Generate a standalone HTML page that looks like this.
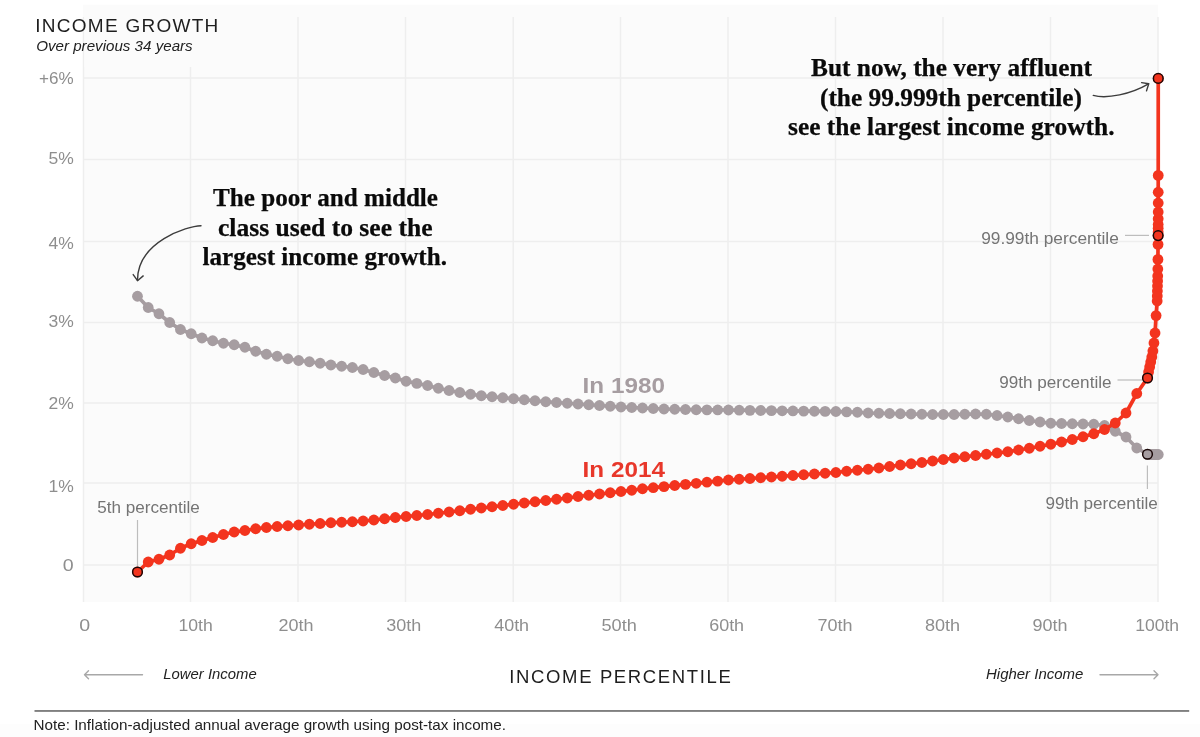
<!DOCTYPE html>
<html><head><meta charset="utf-8"><title>Income growth by percentile</title>
<style>
html,body{margin:0;padding:0;background:#fff;}
body{width:1200px;height:737px;overflow:hidden;font-family:"Liberation Sans",sans-serif;}
svg{display:block;will-change:transform;}
.sans{font-family:"Liberation Sans",sans-serif;}
.serif{font-family:"Liberation Serif",serif;font-weight:bold;font-size:24.5px;fill:#0a0a0a;stroke:#0a0a0a;stroke-width:0.25px;}
.ax{font-family:"Liberation Sans",sans-serif;font-size:16px;fill:#8e8e8e;}
.lab{font-family:"Liberation Sans",sans-serif;font-size:16px;fill:#747474;}
</style></head><body>
<svg width="1200" height="737" viewBox="0 0 1200 737">
<rect x="0" y="0" width="1200" height="737" fill="#ffffff"/>
<rect x="83" y="4.7" width="1074.8" height="597.3" fill="#fbfbfb"/>
<rect x="0" y="724" width="1200" height="13" fill="#fdfdfd"/>
<g stroke="#eeeeee" stroke-width="1.5" fill="none">
<line x1="83.5" y1="17" x2="83.5" y2="602"/>
<line x1="190.5" y1="17" x2="190.5" y2="602"/>
<line x1="298" y1="17" x2="298" y2="602"/>
<line x1="405.5" y1="17" x2="405.5" y2="602"/>
<line x1="513.25" y1="17" x2="513.25" y2="602"/>
<line x1="620.5" y1="17" x2="620.5" y2="602"/>
<line x1="728" y1="17" x2="728" y2="602"/>
<line x1="835.5" y1="17" x2="835.5" y2="602"/>
<line x1="943" y1="17" x2="943" y2="602"/>
<line x1="1050.5" y1="17" x2="1050.5" y2="602"/>
<line x1="1158" y1="17" x2="1158" y2="602"/>
<line x1="83" y1="78" x2="1157.8" y2="78"/>
<line x1="83" y1="159.5" x2="1157.8" y2="159.5"/>
<line x1="83" y1="241.5" x2="1157.8" y2="241.5"/>
<line x1="83" y1="322.5" x2="1157.8" y2="322.5"/>
<line x1="83" y1="403" x2="1157.8" y2="403"/>
<line x1="83" y1="483" x2="1157.8" y2="483"/>
<line x1="83" y1="565" x2="1157.8" y2="565"/>
</g>
<rect x="84.5" y="5" width="150" height="62" fill="#fbfbfb"/>
<polyline points="137.47,296.25 148.22,307.50 158.96,313.75 169.71,322.50 180.45,329.50 191.20,333.75 201.94,338.00 212.69,340.75 223.44,343.25 234.18,344.75 244.92,347.25 255.67,351.25 266.41,354.25 277.16,356.25 287.90,358.75 298.65,360.50 309.39,361.75 320.14,363.25 330.88,365.00 341.63,366.25 352.38,367.50 363.12,369.50 373.86,372.50 384.61,375.50 395.35,378.00 406.10,381.25 416.84,383.40 427.59,385.50 438.33,388.25 449.08,390.50 459.82,392.50 470.57,394.25 481.31,395.75 492.06,396.75 502.80,397.75 513.55,398.75 524.29,399.75 535.04,400.75 545.78,401.75 556.53,402.50 567.27,403.25 578.02,404.00 588.76,404.75 599.51,405.50 610.25,406.25 621.00,407.00 631.75,407.50 642.49,408.00 653.24,408.50 663.98,409.00 674.72,409.25 685.47,409.50 696.21,409.75 706.96,409.85 717.70,409.95 728.45,410.00 739.19,410.20 749.94,410.35 760.68,410.50 771.43,410.65 782.17,410.80 792.92,410.95 803.66,411.10 814.41,411.25 825.15,411.40 835.90,411.50 846.64,411.90 857.39,412.25 868.13,413.00 878.88,413.25 889.62,413.50 900.37,413.75 911.11,414.00 921.86,414.25 932.60,414.50 943.35,414.50 954.09,414.50 964.84,414.25 975.58,414.00 986.33,414.25 997.07,415.50 1007.82,417.00 1018.56,418.75 1029.31,420.50 1040.05,422.00 1050.80,423.25 1061.55,423.50 1072.29,423.75 1083.03,424.00 1093.78,424.25 1104.53,425.50 1115.27,431.25 1126.01,437.00 1136.76,448.00 1147.50,454.25 1148.58,454.50 1149.65,454.50 1150.73,454.50 1151.80,454.50 1152.88,454.50 1153.95,454.50 1155.03,454.50 1156.10,454.50 1157.18,454.50 1158.25,454.50" fill="none" stroke="#a69da1" stroke-width="3.7" stroke-linejoin="round"/>
<circle cx="137.47" cy="296.25" r="5.4" fill="#a69da1"/>
<circle cx="148.22" cy="307.50" r="5.4" fill="#a69da1"/>
<circle cx="158.96" cy="313.75" r="5.4" fill="#a69da1"/>
<circle cx="169.71" cy="322.50" r="5.4" fill="#a69da1"/>
<circle cx="180.45" cy="329.50" r="5.4" fill="#a69da1"/>
<circle cx="191.20" cy="333.75" r="5.4" fill="#a69da1"/>
<circle cx="201.94" cy="338.00" r="5.4" fill="#a69da1"/>
<circle cx="212.69" cy="340.75" r="5.4" fill="#a69da1"/>
<circle cx="223.44" cy="343.25" r="5.4" fill="#a69da1"/>
<circle cx="234.18" cy="344.75" r="5.4" fill="#a69da1"/>
<circle cx="244.92" cy="347.25" r="5.4" fill="#a69da1"/>
<circle cx="255.67" cy="351.25" r="5.4" fill="#a69da1"/>
<circle cx="266.41" cy="354.25" r="5.4" fill="#a69da1"/>
<circle cx="277.16" cy="356.25" r="5.4" fill="#a69da1"/>
<circle cx="287.90" cy="358.75" r="5.4" fill="#a69da1"/>
<circle cx="298.65" cy="360.50" r="5.4" fill="#a69da1"/>
<circle cx="309.39" cy="361.75" r="5.4" fill="#a69da1"/>
<circle cx="320.14" cy="363.25" r="5.4" fill="#a69da1"/>
<circle cx="330.88" cy="365.00" r="5.4" fill="#a69da1"/>
<circle cx="341.63" cy="366.25" r="5.4" fill="#a69da1"/>
<circle cx="352.38" cy="367.50" r="5.4" fill="#a69da1"/>
<circle cx="363.12" cy="369.50" r="5.4" fill="#a69da1"/>
<circle cx="373.86" cy="372.50" r="5.4" fill="#a69da1"/>
<circle cx="384.61" cy="375.50" r="5.4" fill="#a69da1"/>
<circle cx="395.35" cy="378.00" r="5.4" fill="#a69da1"/>
<circle cx="406.10" cy="381.25" r="5.4" fill="#a69da1"/>
<circle cx="416.84" cy="383.40" r="5.4" fill="#a69da1"/>
<circle cx="427.59" cy="385.50" r="5.4" fill="#a69da1"/>
<circle cx="438.33" cy="388.25" r="5.4" fill="#a69da1"/>
<circle cx="449.08" cy="390.50" r="5.4" fill="#a69da1"/>
<circle cx="459.82" cy="392.50" r="5.4" fill="#a69da1"/>
<circle cx="470.57" cy="394.25" r="5.4" fill="#a69da1"/>
<circle cx="481.31" cy="395.75" r="5.4" fill="#a69da1"/>
<circle cx="492.06" cy="396.75" r="5.4" fill="#a69da1"/>
<circle cx="502.80" cy="397.75" r="5.4" fill="#a69da1"/>
<circle cx="513.55" cy="398.75" r="5.4" fill="#a69da1"/>
<circle cx="524.29" cy="399.75" r="5.4" fill="#a69da1"/>
<circle cx="535.04" cy="400.75" r="5.4" fill="#a69da1"/>
<circle cx="545.78" cy="401.75" r="5.4" fill="#a69da1"/>
<circle cx="556.53" cy="402.50" r="5.4" fill="#a69da1"/>
<circle cx="567.27" cy="403.25" r="5.4" fill="#a69da1"/>
<circle cx="578.02" cy="404.00" r="5.4" fill="#a69da1"/>
<circle cx="588.76" cy="404.75" r="5.4" fill="#a69da1"/>
<circle cx="599.51" cy="405.50" r="5.4" fill="#a69da1"/>
<circle cx="610.25" cy="406.25" r="5.4" fill="#a69da1"/>
<circle cx="621.00" cy="407.00" r="5.4" fill="#a69da1"/>
<circle cx="631.75" cy="407.50" r="5.4" fill="#a69da1"/>
<circle cx="642.49" cy="408.00" r="5.4" fill="#a69da1"/>
<circle cx="653.24" cy="408.50" r="5.4" fill="#a69da1"/>
<circle cx="663.98" cy="409.00" r="5.4" fill="#a69da1"/>
<circle cx="674.72" cy="409.25" r="5.4" fill="#a69da1"/>
<circle cx="685.47" cy="409.50" r="5.4" fill="#a69da1"/>
<circle cx="696.21" cy="409.75" r="5.4" fill="#a69da1"/>
<circle cx="706.96" cy="409.85" r="5.4" fill="#a69da1"/>
<circle cx="717.70" cy="409.95" r="5.4" fill="#a69da1"/>
<circle cx="728.45" cy="410.00" r="5.4" fill="#a69da1"/>
<circle cx="739.19" cy="410.20" r="5.4" fill="#a69da1"/>
<circle cx="749.94" cy="410.35" r="5.4" fill="#a69da1"/>
<circle cx="760.68" cy="410.50" r="5.4" fill="#a69da1"/>
<circle cx="771.43" cy="410.65" r="5.4" fill="#a69da1"/>
<circle cx="782.17" cy="410.80" r="5.4" fill="#a69da1"/>
<circle cx="792.92" cy="410.95" r="5.4" fill="#a69da1"/>
<circle cx="803.66" cy="411.10" r="5.4" fill="#a69da1"/>
<circle cx="814.41" cy="411.25" r="5.4" fill="#a69da1"/>
<circle cx="825.15" cy="411.40" r="5.4" fill="#a69da1"/>
<circle cx="835.90" cy="411.50" r="5.4" fill="#a69da1"/>
<circle cx="846.64" cy="411.90" r="5.4" fill="#a69da1"/>
<circle cx="857.39" cy="412.25" r="5.4" fill="#a69da1"/>
<circle cx="868.13" cy="413.00" r="5.4" fill="#a69da1"/>
<circle cx="878.88" cy="413.25" r="5.4" fill="#a69da1"/>
<circle cx="889.62" cy="413.50" r="5.4" fill="#a69da1"/>
<circle cx="900.37" cy="413.75" r="5.4" fill="#a69da1"/>
<circle cx="911.11" cy="414.00" r="5.4" fill="#a69da1"/>
<circle cx="921.86" cy="414.25" r="5.4" fill="#a69da1"/>
<circle cx="932.60" cy="414.50" r="5.4" fill="#a69da1"/>
<circle cx="943.35" cy="414.50" r="5.4" fill="#a69da1"/>
<circle cx="954.09" cy="414.50" r="5.4" fill="#a69da1"/>
<circle cx="964.84" cy="414.25" r="5.4" fill="#a69da1"/>
<circle cx="975.58" cy="414.00" r="5.4" fill="#a69da1"/>
<circle cx="986.33" cy="414.25" r="5.4" fill="#a69da1"/>
<circle cx="997.07" cy="415.50" r="5.4" fill="#a69da1"/>
<circle cx="1007.82" cy="417.00" r="5.4" fill="#a69da1"/>
<circle cx="1018.56" cy="418.75" r="5.4" fill="#a69da1"/>
<circle cx="1029.31" cy="420.50" r="5.4" fill="#a69da1"/>
<circle cx="1040.05" cy="422.00" r="5.4" fill="#a69da1"/>
<circle cx="1050.80" cy="423.25" r="5.4" fill="#a69da1"/>
<circle cx="1061.55" cy="423.50" r="5.4" fill="#a69da1"/>
<circle cx="1072.29" cy="423.75" r="5.4" fill="#a69da1"/>
<circle cx="1083.03" cy="424.00" r="5.4" fill="#a69da1"/>
<circle cx="1093.78" cy="424.25" r="5.4" fill="#a69da1"/>
<circle cx="1104.53" cy="425.50" r="5.4" fill="#a69da1"/>
<circle cx="1115.27" cy="431.25" r="5.4" fill="#a69da1"/>
<circle cx="1126.01" cy="437.00" r="5.4" fill="#a69da1"/>
<circle cx="1136.76" cy="448.00" r="5.4" fill="#a69da1"/>
<circle cx="1147.50" cy="454.25" r="5.4" fill="#a69da1"/>
<circle cx="1148.58" cy="454.50" r="5.4" fill="#a69da1"/>
<circle cx="1149.65" cy="454.50" r="5.4" fill="#a69da1"/>
<circle cx="1150.73" cy="454.50" r="5.4" fill="#a69da1"/>
<circle cx="1151.80" cy="454.50" r="5.4" fill="#a69da1"/>
<circle cx="1152.88" cy="454.50" r="5.4" fill="#a69da1"/>
<circle cx="1153.95" cy="454.50" r="5.4" fill="#a69da1"/>
<circle cx="1155.03" cy="454.50" r="5.4" fill="#a69da1"/>
<circle cx="1156.10" cy="454.50" r="5.4" fill="#a69da1"/>
<circle cx="1157.18" cy="454.50" r="5.4" fill="#a69da1"/>
<circle cx="1158.25" cy="454.50" r="5.4" fill="#a69da1"/>
<polyline points="137.47,572.00 148.22,562.00 158.96,559.25 169.71,555.00 180.45,548.25 191.20,543.75 201.94,540.50 212.69,537.50 223.44,534.50 234.18,532.00 244.92,530.50 255.67,528.75 266.41,527.50 277.16,526.50 287.90,525.75 298.65,525.00 309.39,524.25 320.14,523.50 330.88,522.75 341.63,522.25 352.38,521.75 363.12,521.00 373.86,520.00 384.61,518.75 395.35,517.50 406.10,516.50 416.84,515.50 427.59,514.50 438.33,513.25 449.08,512.00 459.82,510.75 470.57,509.25 481.31,508.00 492.06,506.75 502.80,505.50 513.55,504.25 524.29,503.00 535.04,501.75 545.78,500.50 556.53,499.25 567.27,498.00 578.02,496.50 588.76,495.25 599.51,494.00 610.25,492.75 621.00,491.50 631.75,490.25 642.49,488.75 653.24,487.70 663.98,486.60 674.72,485.50 685.47,484.40 696.21,483.30 706.96,482.20 717.70,481.10 728.45,480.00 739.19,479.25 749.94,478.50 760.68,477.75 771.43,477.00 782.17,476.25 792.92,475.50 803.66,474.75 814.41,474.00 825.15,473.25 835.90,472.50 846.64,471.25 857.39,470.25 868.13,469.25 878.88,468.00 889.62,466.50 900.37,465.00 911.11,463.75 921.86,462.50 932.60,461.00 943.35,459.50 954.09,458.00 964.84,456.75 975.58,455.50 986.33,454.25 997.07,453.00 1007.82,451.75 1018.56,450.00 1029.31,448.25 1040.05,446.25 1050.80,444.25 1061.55,442.00 1072.29,439.50 1083.03,436.75 1093.78,433.75 1104.53,429.50 1115.27,423.00 1126.01,413.00 1136.76,393.50 1147.50,378.00 1148.58,372.00 1149.65,367.00 1150.73,362.00 1151.80,357.00 1152.88,351.00 1153.95,343.00 1155.03,333.00 1156.10,315.60 1157.18,301.00 1157.28,296.00 1157.39,291.00 1157.50,286.00 1157.61,281.00 1157.71,276.00 1157.82,269.00 1157.93,259.40 1158.04,244.40 1158.14,235.60 1158.15,232.00 1158.16,228.30 1158.17,224.60 1158.19,218.75 1158.20,212.00 1158.21,203.00 1158.22,192.25 1158.23,175.40 1158.24,78.40" fill="none" stroke="#f3341e" stroke-width="3.7" stroke-linejoin="round"/>
<circle cx="137.47" cy="572.00" r="5.4" fill="#f3341e"/>
<circle cx="148.22" cy="562.00" r="5.4" fill="#f3341e"/>
<circle cx="158.96" cy="559.25" r="5.4" fill="#f3341e"/>
<circle cx="169.71" cy="555.00" r="5.4" fill="#f3341e"/>
<circle cx="180.45" cy="548.25" r="5.4" fill="#f3341e"/>
<circle cx="191.20" cy="543.75" r="5.4" fill="#f3341e"/>
<circle cx="201.94" cy="540.50" r="5.4" fill="#f3341e"/>
<circle cx="212.69" cy="537.50" r="5.4" fill="#f3341e"/>
<circle cx="223.44" cy="534.50" r="5.4" fill="#f3341e"/>
<circle cx="234.18" cy="532.00" r="5.4" fill="#f3341e"/>
<circle cx="244.92" cy="530.50" r="5.4" fill="#f3341e"/>
<circle cx="255.67" cy="528.75" r="5.4" fill="#f3341e"/>
<circle cx="266.41" cy="527.50" r="5.4" fill="#f3341e"/>
<circle cx="277.16" cy="526.50" r="5.4" fill="#f3341e"/>
<circle cx="287.90" cy="525.75" r="5.4" fill="#f3341e"/>
<circle cx="298.65" cy="525.00" r="5.4" fill="#f3341e"/>
<circle cx="309.39" cy="524.25" r="5.4" fill="#f3341e"/>
<circle cx="320.14" cy="523.50" r="5.4" fill="#f3341e"/>
<circle cx="330.88" cy="522.75" r="5.4" fill="#f3341e"/>
<circle cx="341.63" cy="522.25" r="5.4" fill="#f3341e"/>
<circle cx="352.38" cy="521.75" r="5.4" fill="#f3341e"/>
<circle cx="363.12" cy="521.00" r="5.4" fill="#f3341e"/>
<circle cx="373.86" cy="520.00" r="5.4" fill="#f3341e"/>
<circle cx="384.61" cy="518.75" r="5.4" fill="#f3341e"/>
<circle cx="395.35" cy="517.50" r="5.4" fill="#f3341e"/>
<circle cx="406.10" cy="516.50" r="5.4" fill="#f3341e"/>
<circle cx="416.84" cy="515.50" r="5.4" fill="#f3341e"/>
<circle cx="427.59" cy="514.50" r="5.4" fill="#f3341e"/>
<circle cx="438.33" cy="513.25" r="5.4" fill="#f3341e"/>
<circle cx="449.08" cy="512.00" r="5.4" fill="#f3341e"/>
<circle cx="459.82" cy="510.75" r="5.4" fill="#f3341e"/>
<circle cx="470.57" cy="509.25" r="5.4" fill="#f3341e"/>
<circle cx="481.31" cy="508.00" r="5.4" fill="#f3341e"/>
<circle cx="492.06" cy="506.75" r="5.4" fill="#f3341e"/>
<circle cx="502.80" cy="505.50" r="5.4" fill="#f3341e"/>
<circle cx="513.55" cy="504.25" r="5.4" fill="#f3341e"/>
<circle cx="524.29" cy="503.00" r="5.4" fill="#f3341e"/>
<circle cx="535.04" cy="501.75" r="5.4" fill="#f3341e"/>
<circle cx="545.78" cy="500.50" r="5.4" fill="#f3341e"/>
<circle cx="556.53" cy="499.25" r="5.4" fill="#f3341e"/>
<circle cx="567.27" cy="498.00" r="5.4" fill="#f3341e"/>
<circle cx="578.02" cy="496.50" r="5.4" fill="#f3341e"/>
<circle cx="588.76" cy="495.25" r="5.4" fill="#f3341e"/>
<circle cx="599.51" cy="494.00" r="5.4" fill="#f3341e"/>
<circle cx="610.25" cy="492.75" r="5.4" fill="#f3341e"/>
<circle cx="621.00" cy="491.50" r="5.4" fill="#f3341e"/>
<circle cx="631.75" cy="490.25" r="5.4" fill="#f3341e"/>
<circle cx="642.49" cy="488.75" r="5.4" fill="#f3341e"/>
<circle cx="653.24" cy="487.70" r="5.4" fill="#f3341e"/>
<circle cx="663.98" cy="486.60" r="5.4" fill="#f3341e"/>
<circle cx="674.72" cy="485.50" r="5.4" fill="#f3341e"/>
<circle cx="685.47" cy="484.40" r="5.4" fill="#f3341e"/>
<circle cx="696.21" cy="483.30" r="5.4" fill="#f3341e"/>
<circle cx="706.96" cy="482.20" r="5.4" fill="#f3341e"/>
<circle cx="717.70" cy="481.10" r="5.4" fill="#f3341e"/>
<circle cx="728.45" cy="480.00" r="5.4" fill="#f3341e"/>
<circle cx="739.19" cy="479.25" r="5.4" fill="#f3341e"/>
<circle cx="749.94" cy="478.50" r="5.4" fill="#f3341e"/>
<circle cx="760.68" cy="477.75" r="5.4" fill="#f3341e"/>
<circle cx="771.43" cy="477.00" r="5.4" fill="#f3341e"/>
<circle cx="782.17" cy="476.25" r="5.4" fill="#f3341e"/>
<circle cx="792.92" cy="475.50" r="5.4" fill="#f3341e"/>
<circle cx="803.66" cy="474.75" r="5.4" fill="#f3341e"/>
<circle cx="814.41" cy="474.00" r="5.4" fill="#f3341e"/>
<circle cx="825.15" cy="473.25" r="5.4" fill="#f3341e"/>
<circle cx="835.90" cy="472.50" r="5.4" fill="#f3341e"/>
<circle cx="846.64" cy="471.25" r="5.4" fill="#f3341e"/>
<circle cx="857.39" cy="470.25" r="5.4" fill="#f3341e"/>
<circle cx="868.13" cy="469.25" r="5.4" fill="#f3341e"/>
<circle cx="878.88" cy="468.00" r="5.4" fill="#f3341e"/>
<circle cx="889.62" cy="466.50" r="5.4" fill="#f3341e"/>
<circle cx="900.37" cy="465.00" r="5.4" fill="#f3341e"/>
<circle cx="911.11" cy="463.75" r="5.4" fill="#f3341e"/>
<circle cx="921.86" cy="462.50" r="5.4" fill="#f3341e"/>
<circle cx="932.60" cy="461.00" r="5.4" fill="#f3341e"/>
<circle cx="943.35" cy="459.50" r="5.4" fill="#f3341e"/>
<circle cx="954.09" cy="458.00" r="5.4" fill="#f3341e"/>
<circle cx="964.84" cy="456.75" r="5.4" fill="#f3341e"/>
<circle cx="975.58" cy="455.50" r="5.4" fill="#f3341e"/>
<circle cx="986.33" cy="454.25" r="5.4" fill="#f3341e"/>
<circle cx="997.07" cy="453.00" r="5.4" fill="#f3341e"/>
<circle cx="1007.82" cy="451.75" r="5.4" fill="#f3341e"/>
<circle cx="1018.56" cy="450.00" r="5.4" fill="#f3341e"/>
<circle cx="1029.31" cy="448.25" r="5.4" fill="#f3341e"/>
<circle cx="1040.05" cy="446.25" r="5.4" fill="#f3341e"/>
<circle cx="1050.80" cy="444.25" r="5.4" fill="#f3341e"/>
<circle cx="1061.55" cy="442.00" r="5.4" fill="#f3341e"/>
<circle cx="1072.29" cy="439.50" r="5.4" fill="#f3341e"/>
<circle cx="1083.03" cy="436.75" r="5.4" fill="#f3341e"/>
<circle cx="1093.78" cy="433.75" r="5.4" fill="#f3341e"/>
<circle cx="1104.53" cy="429.50" r="5.4" fill="#f3341e"/>
<circle cx="1115.27" cy="423.00" r="5.4" fill="#f3341e"/>
<circle cx="1126.01" cy="413.00" r="5.4" fill="#f3341e"/>
<circle cx="1136.76" cy="393.50" r="5.4" fill="#f3341e"/>
<circle cx="1147.50" cy="378.00" r="5.4" fill="#f3341e"/>
<circle cx="1148.58" cy="372.00" r="5.4" fill="#f3341e"/>
<circle cx="1149.65" cy="367.00" r="5.4" fill="#f3341e"/>
<circle cx="1150.73" cy="362.00" r="5.4" fill="#f3341e"/>
<circle cx="1151.80" cy="357.00" r="5.4" fill="#f3341e"/>
<circle cx="1152.88" cy="351.00" r="5.4" fill="#f3341e"/>
<circle cx="1153.95" cy="343.00" r="5.4" fill="#f3341e"/>
<circle cx="1155.03" cy="333.00" r="5.4" fill="#f3341e"/>
<circle cx="1156.10" cy="315.60" r="5.4" fill="#f3341e"/>
<circle cx="1157.18" cy="301.00" r="5.4" fill="#f3341e"/>
<circle cx="1157.28" cy="296.00" r="5.4" fill="#f3341e"/>
<circle cx="1157.39" cy="291.00" r="5.4" fill="#f3341e"/>
<circle cx="1157.50" cy="286.00" r="5.4" fill="#f3341e"/>
<circle cx="1157.61" cy="281.00" r="5.4" fill="#f3341e"/>
<circle cx="1157.71" cy="276.00" r="5.4" fill="#f3341e"/>
<circle cx="1157.82" cy="269.00" r="5.4" fill="#f3341e"/>
<circle cx="1157.93" cy="259.40" r="5.4" fill="#f3341e"/>
<circle cx="1158.04" cy="244.40" r="5.4" fill="#f3341e"/>
<circle cx="1158.14" cy="235.60" r="5.4" fill="#f3341e"/>
<circle cx="1158.15" cy="232.00" r="5.4" fill="#f3341e"/>
<circle cx="1158.16" cy="228.30" r="5.4" fill="#f3341e"/>
<circle cx="1158.17" cy="224.60" r="5.4" fill="#f3341e"/>
<circle cx="1158.19" cy="218.75" r="5.4" fill="#f3341e"/>
<circle cx="1158.20" cy="212.00" r="5.4" fill="#f3341e"/>
<circle cx="1158.21" cy="203.00" r="5.4" fill="#f3341e"/>
<circle cx="1158.22" cy="192.25" r="5.4" fill="#f3341e"/>
<circle cx="1158.23" cy="175.40" r="5.4" fill="#f3341e"/>
<circle cx="1158.24" cy="78.40" r="5.4" fill="#f3341e"/>
<circle cx="137.47" cy="572.00" r="4.85" fill="#f3341e" stroke="#1a0808" stroke-width="1.5"/>
<circle cx="1147.50" cy="378.00" r="4.85" fill="#f3341e" stroke="#1a0808" stroke-width="1.5"/>
<circle cx="1158.14" cy="235.60" r="4.85" fill="#f3341e" stroke="#1a0808" stroke-width="1.5"/>
<circle cx="1158.24" cy="78.40" r="4.85" fill="#f3341e" stroke="#1a0808" stroke-width="1.5"/>
<circle cx="1147.50" cy="454.25" r="4.85" fill="#a69da1" stroke="#1a0808" stroke-width="1.5"/>
<g stroke="#bdbdbd" stroke-width="1.2" fill="none">
<line x1="137.5" y1="520" x2="137.5" y2="566"/>
<line x1="1147.4" y1="465.5" x2="1147.4" y2="489"/>
<line x1="1117.5" y1="380" x2="1142" y2="380"/>
<line x1="1125" y1="235.4" x2="1149" y2="235.4"/>
</g>
<g stroke="#3c3c3c" stroke-width="1.4" fill="none" stroke-linecap="round" stroke-linejoin="round">
<path d="M201,225.7 C187.4,226 137.2,241.8 137.5,280.4"/>
<path d="M133.2,274.6 L137.5,280.7 L143.2,275.9"/>
<path d="M1093.25,95.4 C1106.9,99.2 1131.2,94.1 1148.5,83.9"/>
<path d="M1141.6,82.6 L1148.75,83.75 L1146.5,90.9"/>
</g>
<g stroke="#a8a8a8" stroke-width="1.4" fill="none" stroke-linecap="round" stroke-linejoin="round">
<path d="M84.5,674.7 H142.5 M88.5,670.7 L84.5,674.7 L88.5,678.7"/>
<path d="M1100,674.7 H1158 M1154,670.7 L1158,674.7 L1154,678.7"/>
</g>
<rect x="34.5" y="710" width="1154.7" height="1.9" fill="#808080"/>
<text x="35.3" y="31.8" style="font-family:'Liberation Sans',sans-serif;font-size:19px;fill:#1e1e1e" textLength="183" lengthAdjust="spacing">INCOME GROWTH</text>
<text x="36.2" y="51.2" style="font-family:'Liberation Sans',sans-serif;font-size:14px;font-style:italic;fill:#222" textLength="156.5" lengthAdjust="spacingAndGlyphs">Over previous 34 years</text>
<text x="509.3" y="682.5" style="font-family:'Liberation Sans',sans-serif;font-size:18.5px;fill:#1e1e1e" textLength="221.5" lengthAdjust="spacing">INCOME PERCENTILE</text>
<text x="163.3" y="679" style="font-family:'Liberation Sans',sans-serif;font-size:15px;font-style:italic;fill:#222" textLength="93.4" lengthAdjust="spacingAndGlyphs">Lower Income</text>
<text x="986" y="679" style="font-family:'Liberation Sans',sans-serif;font-size:15px;font-style:italic;fill:#222" textLength="97.3" lengthAdjust="spacingAndGlyphs">Higher Income</text>
<text x="33.5" y="730.3" style="font-family:'Liberation Sans',sans-serif;font-size:15px;fill:#222" textLength="472.5" lengthAdjust="spacingAndGlyphs">Note: Inflation-adjusted annual average growth using post-tax income.</text>
<text x="39.1" y="83.75" class="ax" textLength="34.6" lengthAdjust="spacingAndGlyphs">+6%</text>
<text x="48.4" y="164.4" class="ax" textLength="25.3" lengthAdjust="spacingAndGlyphs">5%</text>
<text x="48.4" y="249.1" class="ax" textLength="25.3" lengthAdjust="spacingAndGlyphs">4%</text>
<text x="48.4" y="327.4" class="ax" textLength="25.3" lengthAdjust="spacingAndGlyphs">3%</text>
<text x="48.4" y="409.4" class="ax" textLength="25.3" lengthAdjust="spacingAndGlyphs">2%</text>
<text x="48.4" y="491.8" class="ax" textLength="25.3" lengthAdjust="spacingAndGlyphs">1%</text>
<text x="62.8" y="571.1" class="ax" textLength="10.9" lengthAdjust="spacingAndGlyphs">0</text>
<text x="79.2" y="630.7" class="ax" textLength="10.9" lengthAdjust="spacingAndGlyphs">0</text>
<text x="178.5" y="630.7" class="ax" textLength="34.3" lengthAdjust="spacingAndGlyphs">10th</text>
<text x="278.5" y="630.7" class="ax" textLength="35.0" lengthAdjust="spacingAndGlyphs">20th</text>
<text x="386.2" y="630.7" class="ax" textLength="35.0" lengthAdjust="spacingAndGlyphs">30th</text>
<text x="494.2" y="630.7" class="ax" textLength="34.9" lengthAdjust="spacingAndGlyphs">40th</text>
<text x="601.5" y="630.7" class="ax" textLength="35.3" lengthAdjust="spacingAndGlyphs">50th</text>
<text x="709.2" y="630.7" class="ax" textLength="34.9" lengthAdjust="spacingAndGlyphs">60th</text>
<text x="817.5" y="630.7" class="ax" textLength="35.0" lengthAdjust="spacingAndGlyphs">70th</text>
<text x="924.9" y="630.7" class="ax" textLength="35.2" lengthAdjust="spacingAndGlyphs">80th</text>
<text x="1032.5" y="630.7" class="ax" textLength="35.0" lengthAdjust="spacingAndGlyphs">90th</text>
<text x="1135.2" y="630.7" class="ax" textLength="43.9" lengthAdjust="spacingAndGlyphs">100th</text>
<text x="97.2" y="512.5" class="lab" textLength="102.6" lengthAdjust="spacingAndGlyphs">5th percentile</text>
<text x="1045.45" y="508.6" class="lab" textLength="112.35" lengthAdjust="spacingAndGlyphs">99th percentile</text>
<text x="999.2" y="388" class="lab" textLength="112.35" lengthAdjust="spacingAndGlyphs">99th percentile</text>
<text x="981.2" y="243.6" class="lab" textLength="137.6" lengthAdjust="spacingAndGlyphs">99.99th percentile</text>
<text x="582.6" y="393.4" style="font-family:'Liberation Sans',sans-serif;font-size:22.3px;font-weight:bold;fill:#a69da1" textLength="82.3" lengthAdjust="spacingAndGlyphs">In 1980</text>
<text x="582.6" y="477.1" style="font-family:'Liberation Sans',sans-serif;font-size:22.3px;font-weight:bold;fill:#e8372a" textLength="82.3" lengthAdjust="spacingAndGlyphs">In 2014</text>
<text x="213" y="206" class="serif" textLength="225" lengthAdjust="spacingAndGlyphs">The poor and middle</text>
<text x="218" y="235.5" class="serif" textLength="214.5" lengthAdjust="spacingAndGlyphs">class used to see the</text>
<text x="202.5" y="265" class="serif" textLength="244.5" lengthAdjust="spacingAndGlyphs">largest income growth.</text>
<text x="811" y="76" class="serif" textLength="281" lengthAdjust="spacingAndGlyphs">But now, the very affluent</text>
<text x="820" y="105.5" class="serif" textLength="262" lengthAdjust="spacingAndGlyphs">(the 99.999th percentile)</text>
<text x="788" y="135" class="serif" textLength="326.5" lengthAdjust="spacingAndGlyphs">see the largest income growth.</text>
</svg>
</body></html>
